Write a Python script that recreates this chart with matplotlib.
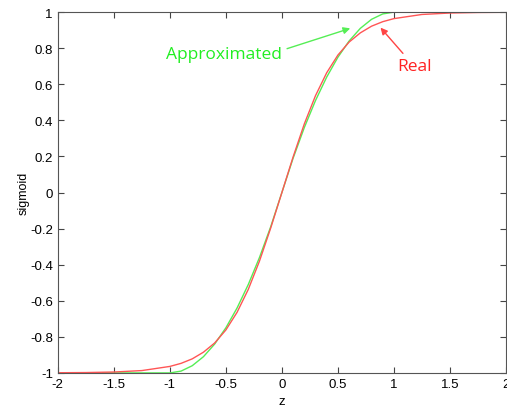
import numpy as np
import matplotlib
matplotlib.use("Agg")
import matplotlib.pyplot as plt

#values
z_real = [-2.0, -1.75, -1.5, -1.25, -1.0, -0.9, -0.8, -0.7, -0.6, -0.5, -0.4, -0.3, -0.2, -0.1,
          0.0, 0.1, 0.2, 0.3, 0.4, 0.5, 0.6, 0.7, 0.8, 0.9, 1.0, 1.25, 1.5, 1.75, 2.0]
sig_real = [-0.999, -0.998, -0.995, -0.987, -0.964, -0.947, -0.922, -0.885, -0.834, -0.762, -0.664, -0.537, -0.380, -0.197,
            0.0, 0.197, 0.380, 0.537, 0.664, 0.762, 0.834, 0.885, 0.922, 0.947, 0.964, 0.987, 0.995, 0.998, 0.999]

z_approx = [-1.6, -1.0, -0.9, -0.8, -0.7, -0.6, -0.5, -0.4, -0.3, -0.2, -0.1,
            0.0, 0.1, 0.2, 0.3, 0.4, 0.5, 0.6, 0.7, 0.8, 0.9, 1.0, 1.6]
sig_approx = [-1.0, -1.0, -0.99, -0.96, -0.91, -0.84, -0.75, -0.64, -0.51, -0.36, -0.19,
              0.0, 0.19, 0.36, 0.51, 0.64, 0.75, 0.84, 0.91, 0.96, 0.99, 1.0, 1.0]

xticks = [-2, -1.5, -1, -0.5, 0, 0.5, 1, 1.5, 2]
yticks = [-1, -0.8, -0.6, -0.4, -0.2, 0, 0.2, 0.4, 0.6, 0.8, 1]

plt.rcParams['font.family'] = ['Liberation Sans', 'DejaVu Sans']

fig = plt.figure(figsize=(5.07, 4.10), dpi=100)
ax = fig.add_axes([0.114, 0.088, 0.884, 0.880])

ax.plot(z_approx, sig_approx, color="#55ee55", linewidth=1)
ax.plot(z_real, sig_real, color="#ff5555", linewidth=1)

ax.set_xlim(-2, 2)
ax.set_ylim(-1, 1)
ax.set_xticks(xticks)
ax.set_yticks(yticks)
ax.set_xticklabels([f"{t:g}" for t in xticks])
ax.set_yticklabels([f"{t:g}" for t in yticks])
ax.tick_params(direction="in", top=True, right=True, labelsize=9.5, length=4, width=0.8, color="#444444")
for s in ax.spines.values():
    s.set_color("#555555")
    s.set_linewidth(0.8)

ax.set_xlabel("z", fontsize=9.5, labelpad=4)
ax.set_ylabel("sigmoid", fontsize=9, labelpad=0)

ax.annotate("Approximated", xy=(0.61, 0.91), xytext=(-0.52, 0.77),
            color="#22ee22", fontsize=12.5, family=["Open Sans", "DejaVu Sans"], ha="center", va="center",
            arrowprops=dict(arrowstyle="-|>", color="#55ee55", lw=1, shrinkA=2, shrinkB=0,
                            relpos=(1.0, 0.7), mutation_scale=10))
ax.annotate("Real", xy=(0.88, 0.914), xytext=(1.18, 0.70),
            color="#ff2222", fontsize=12.5, family=["Open Sans", "DejaVu Sans"], ha="center", va="center",
            arrowprops=dict(arrowstyle="-|>", color="#ff4444", lw=1, shrinkA=2, shrinkB=0,
                            relpos=(0.3, 1.0), mutation_scale=10))

fig.savefig("out.png", dpi=100)
